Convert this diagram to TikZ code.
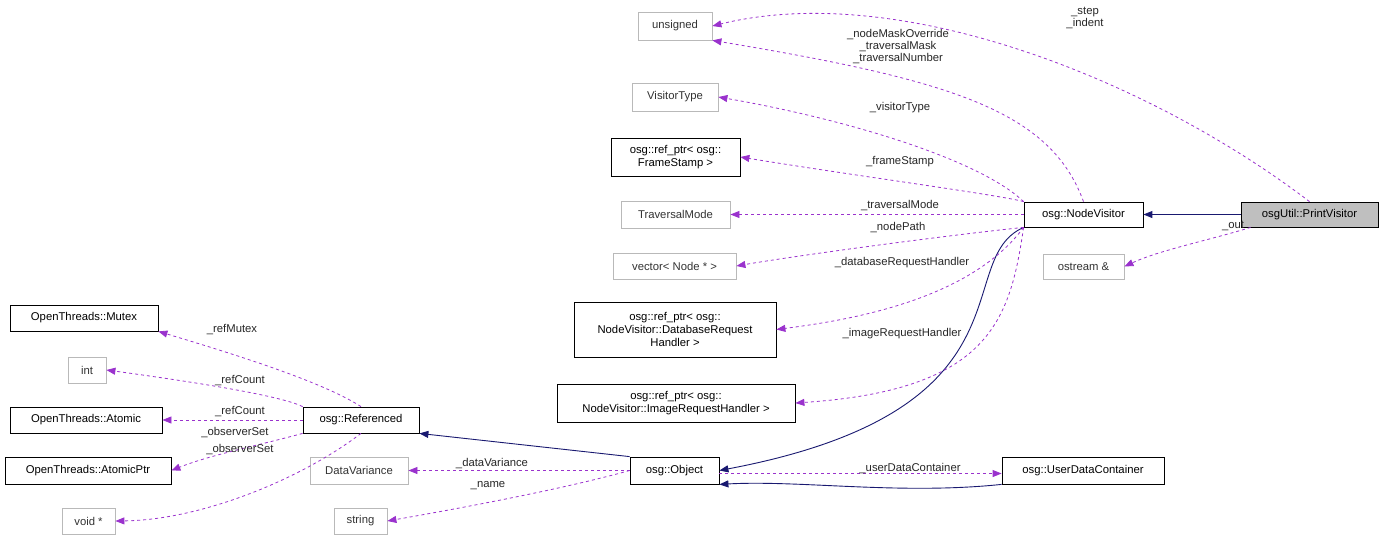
\documentclass[tikz,border=0pt]{standalone}
\usepackage{fontspec}
\setmainfont{Liberation Sans}
\usetikzlibrary{arrows.meta}
\definecolor{pur}{HTML}{9A32CD}
\definecolor{nav}{HTML}{191970}
\begin{document}
\begin{tikzpicture}[x=1pt,y=-1pt,
  box/.style={draw=black,fill=white,inner sep=0pt,font=\fontsize{11.3}{13}\selectfont,align=center,line width=0.8pt},
  gbox/.style={box,draw=gray!55,text=black!80},
  mem/.style={draw=pur,dashed,line width=0.8pt,-{Triangle[length=9pt,width=7pt]}},
  inh/.style={draw=nav,line width=0.9pt,-{Triangle[length=9pt,width=7pt]}},
  lab/.style={font=\fontsize{11.3}{12}\selectfont,align=center,inner sep=0pt,text=black!85}]
\useasboundingbox (0,0) rectangle (1383,541);
% nodes
\node[gbox,minimum width=74,minimum height=28] (uns) at (675,26) {unsigned};
\node[gbox,minimum width=86,minimum height=28] (vt) at (675,97) {VisitorType};
\node[box,minimum width=129,minimum height=38] (fs) at (675.5,157) {osg::ref\_ptr< osg::\\FrameStamp >};
\node[gbox,minimum width=109,minimum height=27] (tm) at (675.5,214.5) {TraversalMode};
\node[gbox,minimum width=123,minimum height=26] (vec) at (674.5,266) {vector< Node * >};
\node[box,minimum width=202,minimum height=55] (drh) at (675,329.5) {osg::ref\_ptr< osg::\\NodeVisitor::DatabaseRequest\\Handler >};
\node[box,minimum width=238,minimum height=38] (irh) at (676,403) {osg::ref\_ptr< osg::\\NodeVisitor::ImageRequestHandler >};
\node[box,minimum width=119,minimum height=25] (nv) at (1083.5,214.5) {osg::NodeVisitor};
\node[box,fill=gray!50,minimum width=137,minimum height=25] (pv) at (1309.5,214.5) {osgUtil::PrintVisitor};
\node[gbox,minimum width=81,minimum height=25] (os) at (1083.5,266.5) {ostream \&};
\node[box,minimum width=148,minimum height=26] (mx) at (84,318) {OpenThreads::Mutex};
\node[gbox,minimum width=38,minimum height=26] (int) at (87,370) {int};
\node[box,minimum width=152,minimum height=26] (at) at (86,420) {OpenThreads::Atomic};
\node[box,minimum width=166,minimum height=27] (ap) at (88,470.5) {OpenThreads::AtomicPtr};
\node[gbox,minimum width=53,minimum height=26] (vd) at (88.5,521) {void *};
\node[box,minimum width=116,minimum height=26] (ref) at (361,420) {osg::Referenced};
\node[gbox,minimum width=98,minimum height=27] (dv) at (359,470.5) {DataVariance};
\node[gbox,minimum width=53,minimum height=26] (str) at (360.5,521) {string};
\node[box,minimum width=89,minimum height=27] (obj) at (674.5,470.5) {osg::Object};
\node[box,minimum width=162,minimum height=27] (udc) at (1083,470.5) {osg::UserDataContainer};
% inheritance
\draw[inh] (pv.west) -- (nv.east);
\draw[inh] (obj.north west) -- (ref.south east);
\draw[inh] (nv.south west) .. controls (950,260) and (1040,410) .. (obj.east);
\draw[inh] (udc.south west) .. controls (900,495) and (800,480) .. (obj.south east);
% members
\draw[mem] ([yshift=-3]obj.east) -- ([yshift=-3]udc.west);
\node[lab] (l0) at (910,469) {\_userDataContainer};
\draw[mem] (pv.north) .. controls (1150,80) and (900,-20) .. (uns.east);
\node[lab] (l1) at (1085,18) {\_step\\\_indent};
\draw[mem] ([xshift=10]pv.south west) .. controls (1210,240) and (1160,250) .. (os.east);
\node[lab] (l2) at (1233,226) {\_out};
\draw[mem] (nv.north) .. controls (1050,110) and (950,80) .. (uns.south east);
\node[lab] (l3) at (898,47) {\_nodeMaskOverride\\\_traversalMask\\\_traversalNumber};
\draw[mem] (nv.north west) .. controls (980,160) and (850,120) .. (vt.east);
\node[lab] (l4) at (900,108) {\_visitorType};
\draw[mem] (nv.north west) .. controls (1000,195) and (850,175) .. (fs.east);
\node[lab] (l5) at (900,162) {\_frameStamp};
\draw[mem] (nv.west) -- (tm.east);
\node[lab] (l6) at (900,206) {\_traversalMode};
\draw[mem] (nv.south west) .. controls (950,235) and (800,255) .. (vec.east);
\node[lab] (l7) at (898,228) {\_nodePath};
\draw[mem] (nv.south west) .. controls (970,300) and (850,320) .. (drh.east);
\node[lab] (l8) at (902,263) {\_databaseRequestHandler};
\draw[mem] (nv.south west) .. controls (1010,320) and (990,390) .. (irh.east);
\node[lab] (l9) at (902,334) {\_imageRequestHandler};
\draw[mem] (ref.north) .. controls (320,380) and (220,350) .. (mx.south east);
\node[lab] (m1) at (232,330) {\_refMutex};
\draw[mem] (ref.north west) .. controls (280,395) and (180,380) .. (int.east);
\node[lab] (m2) at (240,381) {\_refCount};
\draw[mem] (ref.west) -- (at.east);
\node[lab] (m3) at (240,412) {\_refCount};
\draw[mem] (ref.south west) .. controls (260,445) and (210,455) .. (ap.east);
\node[lab] (m4) at (235,433) {\_observerSet};
\draw[mem] (ref.south) .. controls (300,480) and (200,520) .. (vd.east);
\node[lab] (m5) at (240,450) {\_observerSet};
\draw[mem] (obj.west) -- (dv.east);
\node[lab] (o1) at (492,464) {\_dataVariance};
\draw[mem] (obj.west) .. controls (560,490) and (450,510) .. (str.east);
\node[lab] (o2) at (488,486) {\_name};
\end{tikzpicture}
\end{document}
